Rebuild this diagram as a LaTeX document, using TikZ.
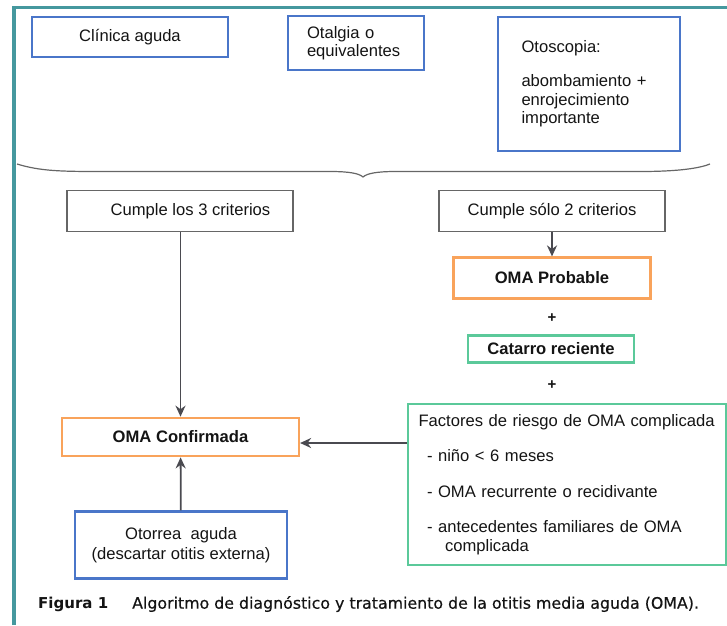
\documentclass[tikz,border=0pt]{standalone}
\usepackage{fontspec}
\setmainfont{Liberation Sans}
\newfontfamily\capfont{DejaVu Sans}[FakeBold=0.5]
\newfontfamily\capboldfont{DejaVu Sans Bold}
\usetikzlibrary{arrows.meta}
\definecolor{cblue}{HTML}{4A76C9}
\definecolor{corange}{HTML}{F9A35B}
\definecolor{cgreen}{HTML}{5BC99A}
\definecolor{cgray}{HTML}{666666}
\definecolor{cteal}{HTML}{45989E}
\definecolor{carrow}{HTML}{4A4A50}
\definecolor{ctext}{HTML}{141414}
\tikzset{
  box/.style={draw, line width=2.2pt, inner sep=0pt, text=ctext,
    font=\fontsize{16.6}{18.5}\selectfont},
  bluebox/.style={box, draw=cblue},
  graybox/.style={box, draw=cgray, line width=1.6pt},
  orangebox/.style={box, draw=corange},
  greenbox/.style={box, draw=cgreen},
  plus/.style={inner sep=0pt, text=ctext, font=\fontsize{15}{15}\selectfont\bfseries},
  arr/.style={draw=carrow, line width=1.8pt, -{Stealth[length=11pt,width=10pt]}},
}
\begin{document}
\begin{tikzpicture}[x=1pt,y=-1pt]
\useasboundingbox (0,0) rectangle (727,625);
% frame
\draw[cteal, line width=3.5pt] (14,625) -- (14,7.5) -- (727,7.5);
% top boxes
\node[bluebox, minimum width=196pt, minimum height=40pt] (clin) at (130,37) {Clínica aguda};
\node[bluebox, minimum width=136pt, minimum height=54pt, text width=98pt, align=left] (otal) at (356,43) {Otalgia o\\equivalentes};
\node[bluebox, minimum width=182pt, minimum height=134pt, text width=135pt, align=left] (otos) at (589,84) {Otoscopia:\\[15.5pt]abombamiento +\\enrojecimiento\\importante\rule[-4pt]{0pt}{0pt}};
% brace
\draw[cgray, line width=1.2pt] (17,164) .. controls (40,171) and (60,171.5) .. (100,171.5) -- (330,171.5) .. controls (350,171.5) and (359,173.5) .. (363,177) .. controls (367,173.5) and (376,171.5) .. (396,171.5) -- (640,171.5) .. controls (680,171.5) and (700,168) .. (710,164);
% criteria boxes
\node[graybox, minimum width=226pt, minimum height=41pt] (c3) at (180,211) {\hspace*{21pt}Cumple los 3 criterios};
\node[graybox, minimum width=226pt, minimum height=41pt] (c2) at (552,211) {Cumple sólo 2 criterios};
% right column
\node[orangebox, minimum width=197pt, minimum height=41pt, font=\fontsize{16.6}{18.5}\selectfont\bfseries] (prob) at (552,278) {OMA Probable};
\node[plus] (p1) at (552,318) {+};
\node[greenbox, minimum width=166pt, minimum height=27pt, font=\fontsize{16.6}{18.5}\selectfont\bfseries] (cat) at (551,349) {Catarro reciente};
\node[plus] (p2) at (552,385) {+};
\node[greenbox, minimum width=317.5pt, minimum height=161pt, text width=297pt, align=left] (fact) at (567,484.5) {Factores de riesgo de OMA complicada\\[17pt]
\hspace*{8.5pt}- niño < 6 meses\\[17pt]
\hspace*{8.5pt}- OMA recurrente o recidivante\\[17pt]
\hspace*{8.5pt}- antecedentes familiares de OMA\\
\hspace*{26.5pt}complicada};
% left column
\node[orangebox, minimum width=237pt, minimum height=38.5pt, font=\fontsize{16.6}{18.5}\selectfont\bfseries] (conf) at (180.5,437) {OMA Confirmada};
\node[bluebox, minimum width=212pt, minimum height=67pt, align=center, font=\fontsize{16.6}{20}\selectfont] (otor) at (181,545) {Otorrea\ \ aguda\\(descartar otitis externa)};
% connectors
\coordinate (ay) at (0,443);
\draw[arr] (c2) -- (prob);
\draw[arr] (c3.south -| conf.north) -- (conf.north);
\draw[arr] (fact.west |- ay) -- (conf.east |- ay);
\draw[arr] (otor) -- (conf);
% caption
\node[anchor=west, inner sep=0pt, text=ctext, font=\capboldfont\fontsize{15}{15}\selectfont] (fig) at (38,604) {Figura 1};
\node[anchor=west, inner sep=0pt, text=ctext, font=\capfont\fontsize{15.8}{16}\selectfont] (capt) at (132,604) {Algoritmo de diagnóstico y tratamiento de la otitis media aguda (OMA).};
\end{tikzpicture}
\end{document}
